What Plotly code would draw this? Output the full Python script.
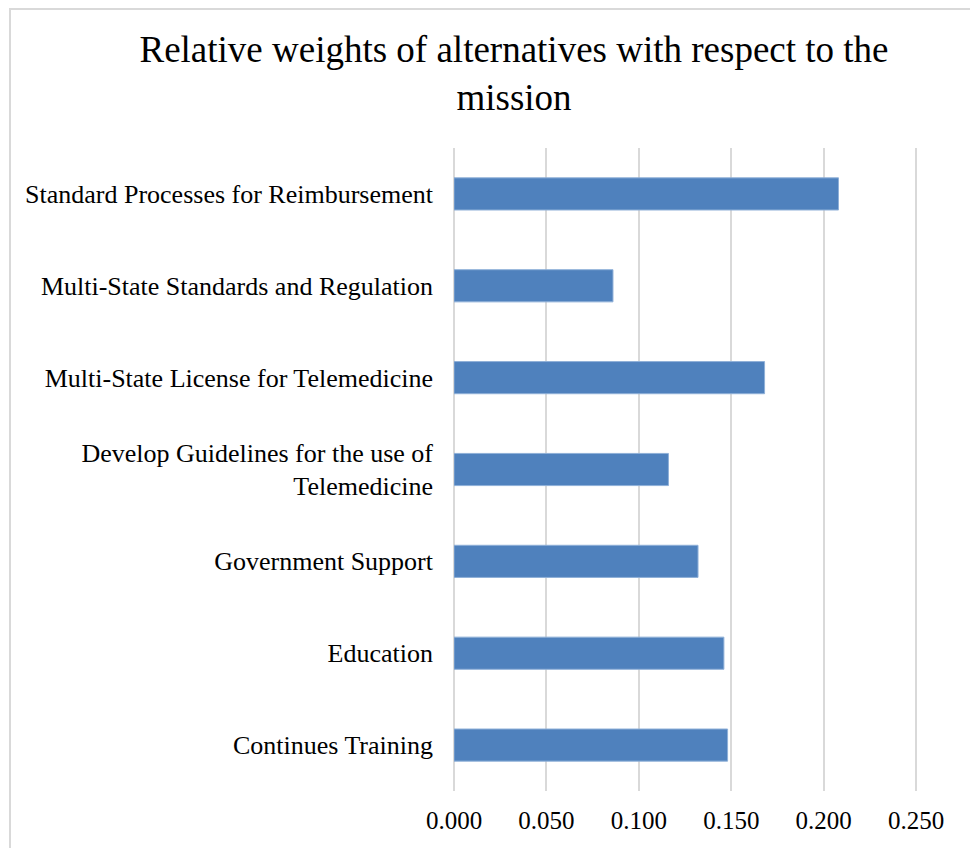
import plotly.graph_objects as go

# Alternatives (top to bottom as displayed) and their relative weights
alternatives = [
    "Standard Processes for Reimbursement",
    "Multi-State Standards and Regulation",
    "Multi-State License for Telemedicine",
    "Develop Guidelines for the use of<br>Telemedicine",
    "Government Support",
    "Education",
    "Continues Training",
]
weights = [0.208, 0.086, 0.168, 0.116, 0.132, 0.146, 0.148]

tick_values = [0.0, 0.05, 0.10, 0.15, 0.20, 0.25]
tick_labels = ["0.000", "0.050", "0.100", "0.150", "0.200", "0.250"]

W, H = 970, 848
L, R, T, B = 454, 52, 148, 57

fig = go.Figure(
    go.Bar(
        x=weights,
        y=alternatives,
        orientation="h",
        width=0.35,
        marker=dict(color="#4f81bd", line=dict(color="#8fb0d8", width=1)),
    )
)

pw = W - L - R
ph = H - T - B


def px_x(x):
    return (x - L) / pw


def px_y(y):
    return (H - B - y) / ph


fig.update_layout(
    width=W,
    height=H,
    margin=dict(l=L, r=R, t=T, b=B),
    paper_bgcolor="white",
    plot_bgcolor="white",
    showlegend=False,
    title=dict(
        text="Relative weights of alternatives with respect to the<br>mission",
        font=dict(family="Liberation Serif", size=37, color="#000000"),
        x=px_x(514),
        xref="paper",
        xanchor="center",
        y=1 - 62 / H,
        yref="container",
        yanchor="middle",
    ),
    xaxis=dict(
        range=[0, 0.251],
        tickvals=tick_values,
        ticktext=tick_labels,
        showgrid=True,
        gridcolor="#d9d9d9",
        gridwidth=2,
        zeroline=True,
        zerolinecolor="#d9d9d9",
        zerolinewidth=2,
        showline=False,
        ticks="",
        ticklabelstandoff=12,
        tickfont=dict(family="Liberation Serif", size=25, color="#000000"),
    ),
    yaxis=dict(
        autorange="reversed",
        showgrid=False,
        zeroline=False,
        showline=False,
        ticks="",
        ticklabelstandoff=20,
        tickfont=dict(family="Liberation Serif", size=26, color="#000000"),
    ),
    shapes=[
        dict(
            type="rect",
            xref="paper",
            yref="paper",
            x0=px_x(10),
            x1=px_x(1100),
            y0=px_y(1000),
            y1=px_y(9),
            line=dict(color="#d9d9d9", width=2),
            fillcolor="rgba(0,0,0,0)",
            layer="below",
        )
    ],
)

fig.write_html("out.html")
